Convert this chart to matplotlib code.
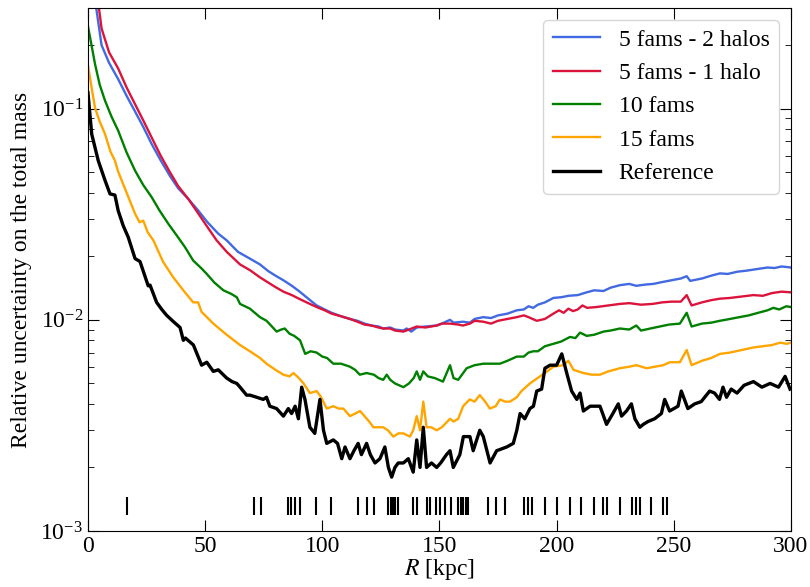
import matplotlib
matplotlib.use("Agg")
import matplotlib.pyplot as plt
import numpy as np

plt.rcParams["font.family"] = ["Liberation Serif", "DejaVu Serif"]
plt.rcParams["mathtext.fontset"] = "stix"
plt.rcParams["font.size"] = 17

# 5 fams - 2 halos
r_2h = [2.5, 5.8, 9.0, 12.9, 16.5, 20.1, 23.6, 27.2, 31, 35, 38.5, 42.8, 47, 51, 55.6, 59.2,
        64, 69.1, 73.4, 77, 80, 83.4, 87, 90, 94, 97.6, 101, 104, 108, 111.8, 115, 118, 121,
        124, 126, 129, 131, 134.6, 136, 138, 140.3, 144, 148.8, 151, 154.5, 156, 160, 163,
        165, 168.7, 172, 175, 179, 183, 186, 188, 190, 192, 195, 198.6, 202, 205, 209, 212.8,
        216, 220, 223, 227, 231, 234, 238, 241.3, 245, 249, 253, 255.5, 257, 262, 266, 269.7,
        273, 277, 281, 284, 287, 290, 293, 296, 300]
u_2h = [0.36, 0.20, 0.165, 0.138, 0.115, 0.097, 0.082, 0.068, 0.057, 0.048, 0.042, 0.0374,
        0.033, 0.029, 0.0256, 0.0238, 0.021, 0.0195, 0.0183, 0.017, 0.0162, 0.0154, 0.0145,
        0.0137, 0.0126, 0.0117, 0.0112, 0.0108, 0.0104, 0.0101, 0.0099, 0.0096, 0.0094,
        0.0093, 0.0091, 0.0092, 0.0090, 0.0089, 0.0091, 0.0088, 0.0092, 0.0093, 0.0094,
        0.0096, 0.0100, 0.0097, 0.0098, 0.0097, 0.0101, 0.0103, 0.0102, 0.0105, 0.0107,
        0.0111, 0.0112, 0.0116, 0.0114, 0.0118, 0.0121, 0.0127, 0.0128, 0.0130, 0.0131,
        0.0135, 0.0138, 0.0137, 0.0142, 0.0146, 0.0148, 0.0145, 0.0147, 0.0148, 0.0151,
        0.0154, 0.0157, 0.0161, 0.0153, 0.0157, 0.0162, 0.0166, 0.0165, 0.0169, 0.0171,
        0.0173, 0.0175, 0.0177, 0.0176, 0.0179, 0.0177]

# 5 fams - 1 halo
r_1h = [3.5, 5.8, 9.0, 12.9, 16.5, 20.1, 23.6, 27.2, 31, 35, 38.5, 42.8, 47, 51, 54.9, 59.2,
        64.9, 69.1, 73.4, 77, 80, 83.4, 87, 90, 94, 97.6, 101, 104, 108, 111.8, 115, 118, 121,
        124, 126, 129, 131, 134.6, 137, 140.3, 144, 148.8, 151, 154.5, 158, 160, 163, 165,
        168.7, 172, 175, 179, 183, 186, 188, 191.5, 195, 198.6, 201, 203, 205, 207, 209, 211,
        213, 217, 222, 227, 231, 236, 241, 245, 249, 253, 255.5, 257.6, 262, 266, 269.7, 274,
        279, 284, 288, 292, 296, 300]
u_1h = [0.38, 0.24, 0.185, 0.155, 0.126, 0.105, 0.088, 0.073, 0.060, 0.050, 0.043, 0.0374,
        0.032, 0.0275, 0.0238, 0.021, 0.0183, 0.0172, 0.0159, 0.0150, 0.0143, 0.0136, 0.0131,
        0.0126, 0.0120, 0.0115, 0.0111, 0.0107, 0.0104, 0.0101, 0.0098, 0.0095, 0.0094,
        0.0092, 0.0091, 0.0091, 0.0089, 0.0088, 0.0090, 0.0093, 0.0092, 0.0094, 0.0096,
        0.0096, 0.0095, 0.0094, 0.0096, 0.0099, 0.0098, 0.0096, 0.0099, 0.0101, 0.0103,
        0.0105, 0.0103, 0.0099, 0.0101, 0.0107, 0.0111, 0.0108, 0.0113, 0.0110, 0.0112,
        0.0117, 0.0114, 0.0115, 0.0117, 0.0119, 0.0120, 0.0118, 0.0119, 0.0121, 0.0122,
        0.0122, 0.0131, 0.0117, 0.0121, 0.0124, 0.0126, 0.0127, 0.0129, 0.0131, 0.0130,
        0.0134, 0.0136, 0.0135]

# 10 fams
r_10 = [0, 3, 5, 7.3, 10, 12.9, 16.5, 20.1, 23.6, 27.2, 30.5, 34.3, 38, 41.4, 44.9, 48.5,
        50.7, 54, 57.8, 61, 63.5, 64.9, 69.1, 73.4, 76.2, 78.5, 80.5, 82.5, 84, 86, 88, 90.5,
        92.7, 95, 97.6, 100, 102, 104.7, 108, 111.8, 114, 116, 118.9, 122, 124, 126, 127.5,
        129, 131, 134.6, 137, 139, 140.3, 141.7, 143.1, 145, 148, 151.5, 154.5, 156, 158,
        161.6, 165, 168.7, 172, 175.8, 179, 183, 186, 188, 190, 192, 195, 198.6, 202, 205.7,
        208, 210, 212.8, 216, 220, 223, 227, 231, 234, 236, 240, 244, 248, 252.6, 255.5, 257.6,
        262, 266, 269.7, 274, 278, 282, 286, 290, 292.5, 295, 298, 300]
u_10 = [0.246, 0.163, 0.13, 0.109, 0.092, 0.0787, 0.062, 0.0509, 0.0435, 0.0381, 0.033,
        0.0285, 0.0250, 0.0221, 0.0191, 0.0175, 0.0165, 0.0150, 0.0138, 0.0133, 0.0128,
        0.0119, 0.0113, 0.0103, 0.0099, 0.0093, 0.0088, 0.0090, 0.0091, 0.0086, 0.0084,
        0.0080, 0.0069, 0.0071, 0.0070, 0.0067, 0.0066, 0.0062, 0.0062, 0.0060, 0.0058,
        0.0055, 0.0056, 0.0055, 0.0053, 0.0052, 0.0055, 0.0052, 0.0050, 0.0048, 0.0050,
        0.0053, 0.0057, 0.0052, 0.0057, 0.0054, 0.0053, 0.0051, 0.0061, 0.0053, 0.0052,
        0.0059, 0.0061, 0.0062, 0.0062, 0.0062, 0.0064, 0.0067, 0.0067, 0.0070, 0.0071,
        0.0071, 0.0075, 0.0077, 0.0079, 0.0083, 0.0082, 0.0087, 0.0084, 0.0085, 0.0088,
        0.0089, 0.0091, 0.0090, 0.0094, 0.0089, 0.0091, 0.0093, 0.0095, 0.0096, 0.0108,
        0.0093, 0.0096, 0.0097, 0.0099, 0.0101, 0.0103, 0.0105, 0.0108, 0.0111, 0.0114,
        0.0112, 0.0116, 0.0115]

# 15 fams
r_15 = [0, 3, 5, 7.3, 9.5, 11.5, 12.9, 16.5, 20.1, 22, 23.6, 25.5, 27.9, 32.1, 36.4, 40.7,
        44.9, 47, 48.5, 53.5, 59.2, 64.9, 69.1, 73.4, 76.2, 80, 83.4, 86, 87.7, 90, 92, 94.7,
        97.6, 99.5, 101.9, 104.7, 107, 109, 111.8, 114, 116.1, 118, 120, 121.8, 124, 126, 128,
        130.3, 132.5, 134.6, 137.4, 138.8, 140.3, 141.7, 143.1, 144.5, 146.5, 148.8, 151,
        154.5, 156, 158, 160.1, 162.9, 165, 167.2, 169.5, 171.5, 174, 175.8, 178, 180.1, 183,
        185, 188.6, 192.9, 195, 198.6, 202.9, 205, 207.2, 211.4, 215, 218.5, 222, 227, 231,
        234.1, 238.4, 242, 245.5, 248.3, 252.6, 255.5, 257.6, 262, 266, 269.7, 274, 279, 284,
        288, 292, 295.4, 298.2, 300]
u_15 = [0.160, 0.101, 0.087, 0.0758, 0.063, 0.0567, 0.0503, 0.040, 0.0318, 0.029, 0.0295,
        0.026, 0.0238, 0.0188, 0.0159, 0.0138, 0.0121, 0.0121, 0.0109, 0.0096, 0.0085, 0.0076,
        0.0071, 0.0066, 0.0062, 0.0058, 0.0055, 0.0054, 0.0056, 0.0053, 0.0050, 0.0045,
        0.0046, 0.0043, 0.0038, 0.0039, 0.0038, 0.0038, 0.0035, 0.0036, 0.0037, 0.0035,
        0.0033, 0.0031, 0.0031, 0.0031, 0.0030, 0.0028, 0.0029, 0.0029, 0.0028, 0.0030,
        0.0035, 0.0030, 0.0041, 0.0031, 0.0031, 0.0030, 0.0031, 0.0034, 0.0033, 0.0034,
        0.0039, 0.0042, 0.0041, 0.0044, 0.0041, 0.0038, 0.0039, 0.0042, 0.0041, 0.0041,
        0.0043, 0.0046, 0.0050, 0.0054, 0.0056, 0.0060, 0.0061, 0.0064, 0.0058, 0.0056,
        0.0055, 0.0055, 0.0057, 0.0059, 0.0060, 0.0061, 0.0059, 0.0060, 0.0061, 0.0063,
        0.0063, 0.0072, 0.0061, 0.0064, 0.0066, 0.0069, 0.0070, 0.0072, 0.0074, 0.0075,
        0.0076, 0.0078, 0.0077, 0.0078]

# Reference
r_ref = [0, 1.6, 4.4, 7.3, 9.4, 11.5, 12.9, 15, 17.2, 20.1, 22.2, 24, 25.7, 26.5, 29.3, 31.5,
         33.6, 36.5, 39.3, 40.7, 41.6, 45, 48.5, 50.7, 53.5, 55.6, 59.2, 61.5, 63.5, 64.9,
         67.7, 69.1, 72, 74.8, 76.2, 77.6, 80.5, 83.4, 85.5, 86.9, 88.4, 89.8, 91.2, 92.6,
         94.7, 96.8, 99, 100.5, 101.9, 104.7, 106.5, 108.3, 109.7, 111.8, 113.5, 115.3, 116.7,
         118.9, 120.5, 122.5, 124.6, 126.7, 128.2, 129.6, 131, 132.4, 134.6, 136.7, 138.8,
         140.3, 141.7, 143.1, 144.5, 146.6, 148.8, 150.5, 153, 154.5, 155.9, 158.7, 160.2,
         163, 164.4, 167.2, 168.7, 171.6, 174.4, 178.7, 181.5, 183, 184.4, 186.4, 188.6,
         190.1, 191.5, 193.6, 195, 197.2, 200, 202.2, 204.3, 206.4, 208.6, 210, 211.4, 214.3,
         218.5, 221.3, 224, 226.3, 227.7, 229.8, 231.9, 233.4, 235.5, 237, 239, 241.8, 244.7,
         246.1, 248.2, 251.8, 253.2, 256, 258.9, 261.7, 265.3, 267.4, 269.5, 271, 272.5,
         274.5, 277, 280, 284, 287.6, 291.1, 294.7, 297.5, 299.6]
u_ref = [0.119, 0.0758, 0.0567, 0.0457, 0.0395, 0.0390, 0.0329, 0.028, 0.0246, 0.0195,
         0.0189, 0.0165, 0.0145, 0.0146, 0.0121, 0.0112, 0.0105, 0.0098, 0.0092, 0.0080,
         0.0082, 0.0076, 0.0061, 0.0063, 0.0057, 0.0058, 0.0053, 0.0051, 0.0050, 0.0048,
         0.0044, 0.0044, 0.0043, 0.0042, 0.0043, 0.0039, 0.0038, 0.0035, 0.0038, 0.0036,
         0.0039, 0.0034, 0.0048, 0.0042, 0.0031, 0.0029, 0.0042, 0.0030, 0.0026, 0.0027,
         0.0026, 0.0022, 0.0025, 0.0022, 0.0024, 0.0026, 0.0023, 0.0026, 0.0023, 0.0021,
         0.0022, 0.0025, 0.0020, 0.0018, 0.0020, 0.0021, 0.0021, 0.0022, 0.0019, 0.0027,
         0.0020, 0.0031, 0.0020, 0.0021, 0.0020, 0.0021, 0.0023, 0.0024, 0.0020, 0.0023,
         0.0028, 0.0028, 0.0024, 0.0030, 0.0028, 0.0021, 0.0024, 0.0025, 0.0026, 0.0030,
         0.0036, 0.0034, 0.0038, 0.0039, 0.0046, 0.0047, 0.0059, 0.0061, 0.0061, 0.0069,
         0.0056, 0.0046, 0.0042, 0.0045, 0.0037, 0.0039, 0.0039, 0.0032, 0.0036, 0.0040,
         0.0035, 0.0037, 0.0040, 0.0034, 0.0031, 0.0032, 0.0033, 0.0034, 0.0036, 0.0042,
         0.0037, 0.0039, 0.0046, 0.0038, 0.0040, 0.0041, 0.0046, 0.0045, 0.0042, 0.0048,
         0.0043, 0.0047, 0.0045, 0.0049, 0.0051, 0.0048, 0.0050, 0.0048, 0.0054, 0.0047]

# radii of the tracers (rug at the bottom)
r_tracers = [16.6, 70.8, 73.8, 85.4, 86.7, 88.4, 90.6, 97.3, 103.7, 115.3, 119.1, 122.1,
             128.1, 129.4, 130.2, 131.1, 132.3, 138.7, 140.4, 144.7, 146.0, 148.5, 150.2,
             152.4, 154.9, 157.9, 159.2, 160.1, 161.3, 162.2, 170.7, 174.1, 178.0, 186.1,
             187.8, 189.5, 195.0, 200.2, 205.7, 210.4, 215.9, 219.8, 221.5, 227.1, 232.2,
             233.9, 235.6, 240.3, 245.4, 247.1]

fig = plt.figure(figsize=(8.1, 5.87), dpi=100)
ax = fig.add_axes([0.1086, 0.0954, 0.8679, 0.891])

ax.plot(r_2h, u_2h, color="royalblue", lw=1.7, label="5 fams - 2 halos")
ax.plot(r_1h, u_1h, color="crimson", lw=1.7, label="5 fams - 1 halo")
ax.plot(r_10, u_10, color="green", lw=1.7, label="10 fams")
ax.plot(r_15, u_15, color="orange", lw=1.7, label="15 fams")
ax.plot(r_ref, u_ref, color="black", lw=2.4, label="Reference")

ax.vlines(r_tracers, 0.03, 0.065, color="black", lw=1.5,
          transform=ax.get_xaxis_transform())

ax.set_yscale("log")
ax.set_xlim(0, 300)
ax.set_ylim(1e-3, 0.3)
ax.set_xlabel(r"$R$ [kpc]", labelpad=0)
ax.set_ylabel("Relative uncertainty on the total mass", labelpad=6)

ax.tick_params(which="both", direction="in", top=True, right=True)
ax.tick_params(which="major", length=8, labelsize=17)
ax.tick_params(which="minor", length=4)
ax.set_xticks([0, 50, 100, 150, 200, 250, 300])

ax.legend(loc="upper right", fontsize=17, handlelength=2.0)

fig.savefig("out.png", dpi=100)
